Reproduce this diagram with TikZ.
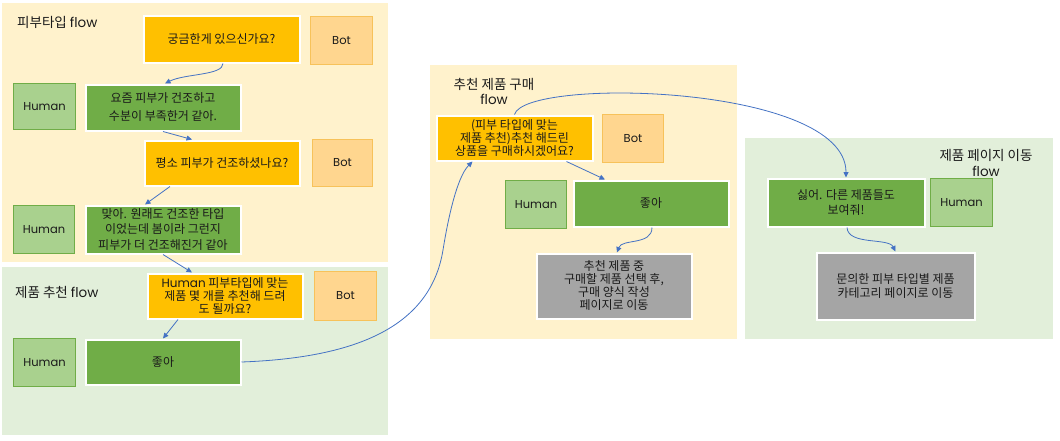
\documentclass[tikz,border=0pt]{standalone}
\usepackage{fontspec}
\setmainfont{Noto Sans CJK KR}
\newfontfamily\lat{Poppins}
\usetikzlibrary{arrows.meta}
\definecolor{panelY}{HTML}{FFF2CC}
\definecolor{panelG}{HTML}{E2EFDA}
\definecolor{botQ}{HTML}{FFC000}
\definecolor{botL}{HTML}{FFD68F}
\definecolor{botLB}{HTML}{F7C25A}
\definecolor{humL}{HTML}{A9D18E}
\definecolor{humLB}{HTML}{70AD47}
\definecolor{humA}{HTML}{70AD47}
\definecolor{grayN}{HTML}{A5A5A5}
\definecolor{arr}{HTML}{4472C4}
\definecolor{txt}{HTML}{1A1A1A}
\tikzset{
  box/.style={draw=white,line width=2pt,align=center,inner sep=0pt,text=txt,
    font=\fontsize{12}{13.5}\selectfont},
  qbox/.style={box,fill=botQ},
  abox/.style={box,fill=humA},
  gbox/.style={box,fill=grayN},
  botlabel/.style={draw=botLB,line width=0.8pt,fill=botL,inner sep=0pt,text=txt,
    font=\lat\fontsize{11.5}{13}\selectfont,minimum width=62pt,minimum height=48pt},
  humlabel/.style={draw=humLB,line width=0.8pt,fill=humL,inner sep=0pt,text=txt,
    font=\lat\fontsize{11.5}{13}\selectfont,minimum width=62pt,minimum height=48pt},
  ptitle/.style={inner sep=0pt,text=txt,align=center,font=\fontsize{13.5}{16}\selectfont},
  conn/.style={draw=arr,line width=0.8pt,-{Triangle[length=5.5pt,width=5pt]}},
}
\begin{document}
\begin{tikzpicture}[x=1pt,y=-1pt]
\useasboundingbox (0,0) rectangle (1060,440);
\fill[white] (0,0) rectangle (1060,440);
% panels
\fill[panelY] (2,3) rectangle (388,262);
\fill[panelG] (2,267) rectangle (388,435);
\fill[panelY] (430,65) rectangle (737,339);
\fill[panelG] (745,138) rectangle (1053,339);
% titles
\node[ptitle,anchor=west] (t1) at (17,22.5) {피부타입 {\lat flow}};
\node[ptitle,anchor=west] (t2) at (15,292.5) {제품 추천 {\lat flow}};
\node[ptitle,font=\fontsize{13.5}{15.5}\selectfont] (t3) at (494,91.5) {추천 제품 구매\\{\lat flow}};
\node[ptitle,font=\fontsize{13.5}{16}\selectfont] (t4) at (986,163) {제품 페이지 이동\\{\lat flow}};
% panel 1
\node[qbox,minimum width=156pt,minimum height=47pt] (q1) at (221.5,39) {궁금한게 있으신가요?};
\node[botlabel,minimum width=62pt,minimum height=48pt] (bot1) at (341.5,40.5) {Bot};
\node[humlabel,minimum width=62pt,minimum height=46pt] (hum1) at (44.5,106.5) {Human};
\node[abox,minimum width=155pt,minimum height=46pt,font=\fontsize{12}{18}\selectfont] (a1) at (163,107.5) {요즘 피부가 건조하고\\수분이 부족한거 같아.};
\node[qbox,minimum width=155pt,minimum height=45pt] (q2) at (222,163) {평소 피부가 건조하셨나요?};
\node[botlabel,minimum width=60pt,minimum height=47pt] (bot2) at (342.5,163) {Bot};
\node[humlabel,minimum width=61pt,minimum height=48pt] (hum2) at (44,229.5) {Human};
\node[abox,minimum width=155pt,minimum height=48pt,font=\fontsize{12}{15.5}\selectfont] (a2) at (163,229.5) {맞아. 원래도 건조한 타입\\이었는데 봄이라 그런지\\피부가 더 건조해진거 같아};
% panel 2
\node[qbox,minimum width=155pt,minimum height=45pt,font=\fontsize{12}{13}\selectfont] (q3) at (225,296) {{\lat Human} 피부타입에 맞는\\제품 몇 개를 추천해 드려\\도 될까요?};
\node[botlabel,minimum width=62pt,minimum height=49pt] (bot3) at (345.5,296) {Bot};
\node[humlabel,minimum width=62pt,minimum height=48pt] (hum3) at (44.5,362.5) {Human};
\node[abox,minimum width=155pt,minimum height=45pt] (a3) at (163,362) {좋아};
% panel 3
\node[qbox,minimum width=156pt,minimum height=45pt,font=\fontsize{12}{13}\selectfont] (q4) at (514.5,138) {(피부 타입에 맞는\\제품 추천)추천 해드린\\상품을 구매하시겠어요?};
\node[botlabel,minimum width=61pt,minimum height=48pt] (bot4) at (633,138.5) {Bot};
\node[humlabel,minimum width=61pt,minimum height=48pt] (hum4) at (536,204.5) {Human};
\node[abox,minimum width=155pt,minimum height=46pt] (a4) at (651,203.5) {좋아};
\node[gbox,minimum width=155pt,minimum height=65pt,font=\fontsize{12}{13}\selectfont] (g1) at (614,286) {추천 제품 중\\구매할 제품 선택 후,\\구매 양식 작성\\페이지로 이동};
% panel 4
\node[abox,minimum width=157pt,minimum height=48pt,font=\fontsize{12}{15}\selectfont] (a5) at (846,202.5) {싫어. 다른 제품들도\\보여줘!};
\node[humlabel,minimum width=62pt,minimum height=48pt] (hum5) at (961.5,202.5) {Human};
\node[gbox,minimum width=158pt,minimum height=67pt] (g2) at (895.5,286) {문의한 피부 타입별 제품\\카테고리 페이지로 이동};
% connectors
\draw[conn] ([xshift=1.5pt]q1.south) .. controls +(0,12) and +(20,-10) .. ([xshift=2pt]a1.north);
\draw[conn] (a1.south) -- ([xshift=-30pt]q2.north);
\draw[conn] ([xshift=-52pt]q2.south) -- ([xshift=-18pt]a2.north);
\draw[conn] (a2.south) -- ([xshift=-33pt]q3.north);
\draw[conn] ([xshift=-47pt]q3.south) -- (a3.north);
\draw[conn] (a3.east) .. controls (350,358) and (430,330) .. (443,250)
  .. controls (447,225) and (456,178) .. ([xshift=-42pt]q4.south);
\draw[conn] (q4.north) .. controls (525,77) and (846,84) .. (a5.north);
\draw[conn] ([xshift=52pt]q4.south) -- ([xshift=-46pt]a4.north);
\draw[conn] ([xshift=1pt]a4.south) .. controls +(0,18) and +(5,-14) .. ([xshift=3pt]g1.north);
\draw[conn] ([xshift=1pt]a5.south) .. controls +(1,18) and +(-7,-14) .. (g2.north);
\end{tikzpicture}
\end{document}
